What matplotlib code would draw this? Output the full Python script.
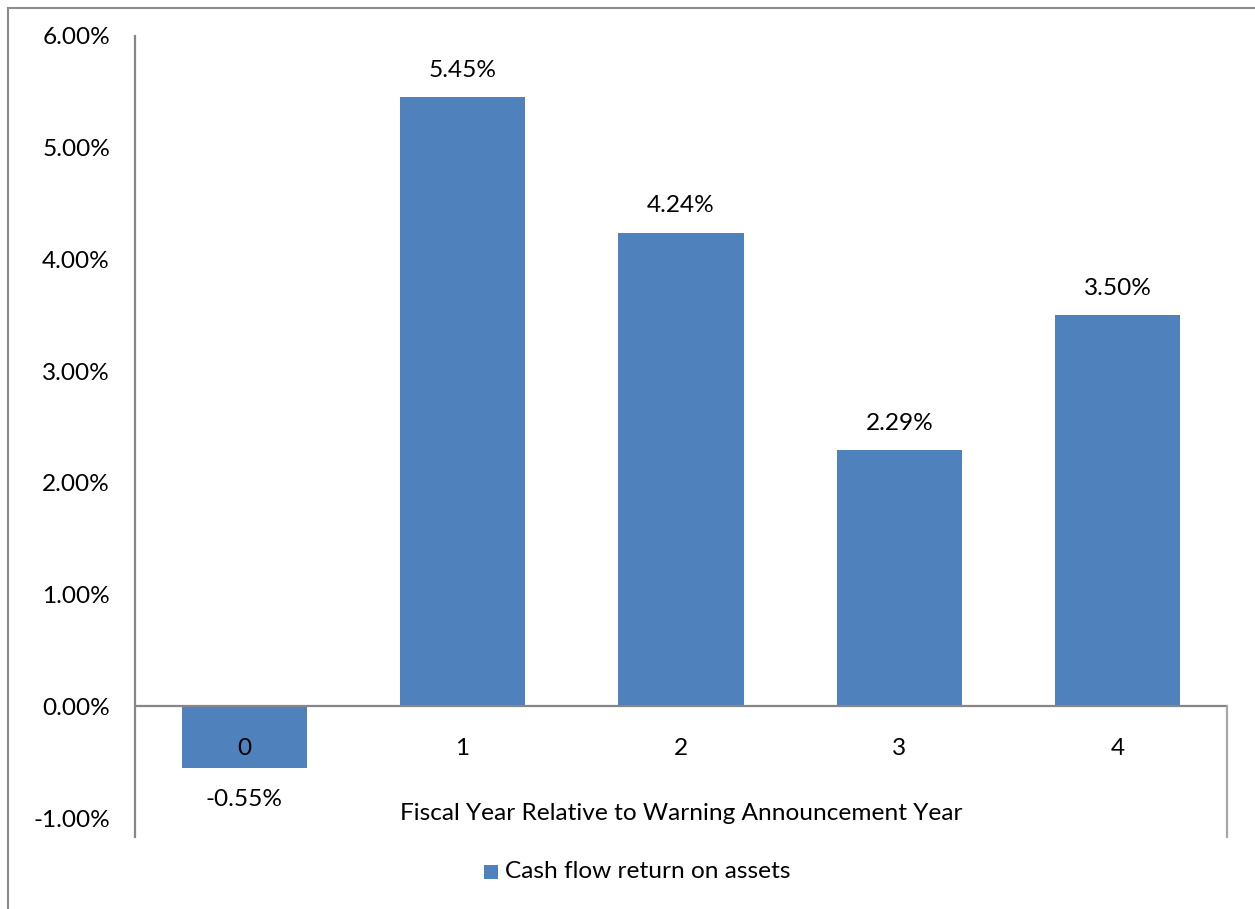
import matplotlib
matplotlib.use("Agg")
import matplotlib.pyplot as plt
from matplotlib.lines import Line2D
from matplotlib.patches import Rectangle

categories = ["0", "1", "2", "3", "4"]
values = [-0.55, 5.45, 4.24, 2.29, 3.50]
value_labels = ["-0.55%", "5.45%", "4.24%", "2.29%", "3.50%"]
y_ticks = [-1, 0, 1, 2, 3, 4, 5, 6]
y_tick_labels = ["-1.00%", "0.00%", "1.00%", "2.00%", "3.00%", "4.00%", "5.00%", "6.00%"]
series_name = "Cash flow return on assets"
x_title = "Fiscal Year Relative to Warning Announcement Year"

BAR = "#4F81BD"
AXIS = "#868686"
FONT = "Lato"
FS = 17.6

W, H = 1255, 909
fig = plt.figure(figsize=(W / 100, H / 100), dpi=100)
fig.patch.set_facecolor("white")

left, right, top, bottom = 135, 1227, 36, 837
ax = fig.add_axes([left / W, 1 - bottom / H, (right - left) / W, (bottom - top) / H])

x = list(range(len(categories)))
ax.bar(x, values, width=0.573, color=BAR, zorder=2)
ax.set_xlim(-0.5, len(categories) - 0.5)
ax.set_ylim(-1.17, 6.0)

for s in ["top", "right", "bottom"]:
    ax.spines[s].set_visible(False)
ax.spines["left"].set_color(AXIS)
ax.spines["left"].set_linewidth(1.6)

ax.set_xticks([])
ax.set_yticks(y_ticks)
ax.set_yticklabels(y_tick_labels, fontsize=FS, family=FONT)
ax.tick_params(axis="y", length=0, pad=18)

# category axis line at zero
ax.axhline(0, color=AXIS, lw=1.6, zorder=3)
# closing edge below the category axis on the right side
ax.plot([len(categories) - 0.5] * 2, [0, -1.17], color="#A6A6A6", lw=1.6,
        clip_on=False, zorder=3)

# category labels just below the zero line
for xi, c in zip(x, categories):
    ax.annotate(c, (xi, 0), xytext=(0, -42), textcoords="offset pixels",
                ha="center", va="center", fontsize=FS, family=FONT, zorder=4)

# value labels
for xi, v, lab in zip(x, values, value_labels):
    off = 27 if v >= 0 else -32
    ax.annotate(lab, (xi, v), xytext=(0, off), textcoords="offset pixels",
                ha="center", va="center", fontsize=FS, family=FONT)

fig.text(681 / W, 1 - 813 / H, x_title, ha="center", va="center",
         fontsize=FS, family=FONT)

# legend
fig.patches.append(Rectangle((484 / W, 1 - 879 / H), 14 / W, 14 / H,
                             transform=fig.transFigure, facecolor=BAR,
                             edgecolor="none"))
fig.text(505 / W, 1 - 872 / H, series_name, ha="left", va="center",
         fontsize=FS, family=FONT)

# chart area border
fig.add_artist(Line2D([8 / W, 8 / W], [0, 1 - 8 / H], color="#8C8C8C", lw=1.5,
                      transform=fig.transFigure))
fig.add_artist(Line2D([8 / W, 1], [1 - 8 / H, 1 - 8 / H], color="#8C8C8C", lw=1.5,
                      transform=fig.transFigure))

fig.savefig("out.png", dpi=100)
